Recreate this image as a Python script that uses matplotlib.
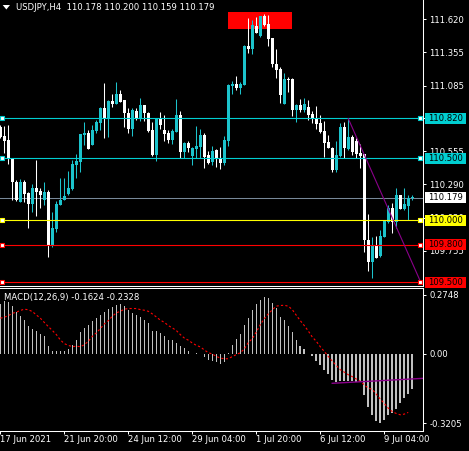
import numpy as np
import matplotlib
matplotlib.use('Agg')
import matplotlib.pyplot as plt
from matplotlib.patches import Rectangle, Polygon
from matplotlib.transforms import blended_transform_factory

# USDJPY H4 candles (one per bar, oldest first)
opens = [110.751, 110.679, 110.646, 110.499, 110.310, 110.149, 110.310, 110.216, 110.130, 110.262,
         110.235, 110.162, 110.230, 109.794, 109.929, 110.122, 110.162, 110.208, 110.251, 110.445,
         110.472, 110.687, 110.705, 110.606, 110.719, 110.781, 110.907, 110.821, 110.961, 110.937,
         111.015, 110.969, 110.861, 110.735, 110.880, 110.821, 110.929, 110.861, 110.727, 110.525,
         110.821, 110.727, 110.700, 110.646, 110.714, 110.848, 110.553, 110.625, 110.520, 110.574,
         110.593, 110.687, 110.525, 110.472, 110.566, 110.499, 110.458, 110.638, 111.085, 111.098,
         111.068, 111.090, 111.404, 111.380, 111.568, 111.485, 111.646, 111.582, 111.467, 111.259,
         111.219, 110.937, 111.138, 111.138, 110.888, 110.929, 110.888, 110.915, 110.856, 110.826,
         110.781, 110.719, 110.633, 110.585, 110.404, 110.520, 110.749, 110.574, 110.668, 110.638,
         110.539, 110.533, 109.840, 109.665, 109.794, 109.713, 109.867, 109.988, 110.095, 109.988,
         110.203, 110.090, 110.117, 110.178]
highs = [110.767, 110.762, 110.767, 110.499, 110.324, 110.332, 110.324, 110.230, 110.289, 110.485,
         110.257, 110.310, 110.243, 110.069, 110.154, 110.337, 110.343, 110.396, 110.485, 110.531,
         110.695, 110.794, 110.727, 110.767, 110.808, 110.915, 111.103, 110.969, 111.015, 111.111,
         111.050, 110.969, 110.907, 110.907, 110.902, 110.982, 110.929, 110.875, 110.794, 110.821,
         110.869, 110.848, 110.727, 110.735, 110.977, 110.880, 110.633, 110.638, 110.593, 110.759,
         110.732, 110.705, 110.558, 110.598, 110.574, 110.587, 110.679, 111.098, 111.122, 111.165,
         111.111, 111.410, 111.628, 111.614, 111.636, 111.649, 111.660, 111.654, 111.472, 111.380,
         111.238, 111.184, 111.157, 111.149, 110.939, 110.977, 110.988, 110.969, 110.880, 110.920,
         110.848, 110.800, 110.687, 110.593, 110.638, 110.781, 110.794, 110.816, 110.687, 110.660,
         110.611, 110.533, 110.047, 109.861, 109.872, 109.920, 110.001, 110.122, 110.136, 110.262,
         110.203, 110.257, 110.203, 110.200]
lows = [110.665, 110.539, 110.450, 110.162, 110.154, 110.149, 110.149, 109.939, 110.069, 110.036,
        110.101, 110.122, 109.705, 109.786, 109.907, 110.122, 110.162, 110.203, 110.243, 110.343,
        110.391, 110.606, 110.574, 110.606, 110.700, 110.727, 110.660, 110.673, 110.915, 110.934,
        110.950, 110.754, 110.700, 110.681, 110.808, 110.800, 110.800, 110.714, 110.520, 110.480,
        110.735, 110.638, 110.619, 110.614, 110.708, 110.499, 110.499, 110.547, 110.445, 110.504,
        110.504, 110.423, 110.450, 110.445, 110.431, 110.413, 110.445, 110.601, 111.015, 111.050,
        111.020, 111.090, 111.345, 111.337, 111.507, 111.474, 111.568, 111.407, 111.235, 111.149,
        110.947, 110.937, 111.036, 110.843, 110.794, 110.875, 110.869, 110.808, 110.781, 110.735,
        110.700, 110.512, 110.579, 110.391, 110.391, 110.512, 110.499, 110.566, 110.525, 110.499,
        110.418, 109.746, 109.590, 109.531, 109.692, 109.705, 109.867, 109.974, 109.899, 109.939,
        110.090, 110.082, 110.001, 110.159]
closes = [110.673, 110.641, 110.499, 110.310, 110.162, 110.310, 110.211, 110.130, 110.262, 110.230,
          110.203, 110.230, 109.794, 109.939, 110.127, 110.162, 110.197, 110.262, 110.453, 110.477,
          110.695, 110.705, 110.574, 110.727, 110.794, 110.902, 110.821, 110.961, 110.934, 111.015,
          110.955, 110.861, 110.735, 110.886, 110.821, 110.929, 110.861, 110.719, 110.525, 110.821,
          110.767, 110.695, 110.646, 110.719, 110.848, 110.553, 110.625, 110.585, 110.585, 110.598,
          110.687, 110.512, 110.458, 110.558, 110.499, 110.458, 110.646, 111.090, 111.098, 111.063,
          111.098, 111.404, 111.380, 111.574, 111.512, 111.646, 111.574, 111.461, 111.259, 111.211,
          111.010, 111.138, 111.130, 110.888, 110.929, 110.888, 110.937, 110.848, 110.826, 110.775,
          110.714, 110.619, 110.585, 110.404, 110.525, 110.749, 110.579, 110.668, 110.553, 110.533,
          110.520, 109.840, 109.665, 109.800, 109.697, 109.872, 109.993, 110.095, 109.982, 110.203,
          110.090, 110.127, 110.181, 110.179]

# MACD(12,26,9): main values drawn as histogram, signal as dotted line
macd_main = [0.2325, 0.245, 0.242, 0.222, 0.195, 0.175, 0.157, 0.129, 0.118, 0.105,
             0.093, 0.085, 0.036, 0.016, 0.012, 0.012, 0.016, 0.025, 0.040, 0.064,
             0.101, 0.121, 0.133, 0.152, 0.167, 0.183, 0.195, 0.211, 0.219, 0.226,
             0.234, 0.222, 0.202, 0.191, 0.183, 0.172, 0.160, 0.144, 0.109, 0.109,
             0.098, 0.085, 0.067, 0.064, 0.051, 0.036, 0.028, 0.012, 0.002, 0.004,
             -0.001, -0.016, -0.028, -0.032, -0.036, -0.047, -0.035, 0.005, 0.043, 0.070,
             0.093, 0.136, 0.168, 0.205, 0.233, 0.250, 0.264, 0.259, 0.237, 0.213,
             0.172, 0.160, 0.130, 0.100, 0.064, 0.036, 0.022, 0.002, -0.011, -0.031,
             -0.050, -0.072, -0.092, -0.120, -0.130, -0.123, -0.124, -0.127, -0.127, -0.131,
             -0.131, -0.190, -0.248, -0.283, -0.313, -0.3205, -0.308, -0.285, -0.275, -0.253,
             -0.228, -0.203, -0.185, -0.1624]
macd_signal = [0.166, 0.171, 0.178, 0.189, 0.194, 0.202, 0.208, 0.205, 0.197, 0.181,
               0.166, 0.146, 0.127, 0.109, 0.090, 0.065, 0.048, 0.040, 0.034, 0.036,
               0.034, 0.043, 0.059, 0.082, 0.098, 0.118, 0.140, 0.155, 0.175, 0.191,
               0.198, 0.208, 0.211, 0.211, 0.211, 0.206, 0.203, 0.198, 0.186, 0.172,
               0.157, 0.147, 0.132, 0.121, 0.109, 0.090, 0.074, 0.064, 0.051, 0.040,
               0.033, 0.019, 0.006, 0.000, -0.011, -0.019, -0.022, -0.022, -0.012, -0.003,
               0.006, 0.023, 0.053, 0.071, 0.102, 0.136, 0.164, 0.186, 0.205, 0.222,
               0.225, 0.226, 0.222, 0.206, 0.180, 0.155, 0.132, 0.107, 0.079, 0.059,
               0.034, 0.012, -0.011, -0.033, -0.053, -0.073, -0.084, -0.096, -0.105, -0.116,
               -0.127, -0.143, -0.158, -0.164, -0.186, -0.209, -0.229, -0.251, -0.267, -0.276,
               -0.282, -0.279, -0.271]

date_pos = [0, 16, 32, 48, 64, 80, 96]
date_labels = ['17 Jun 2021', '21 Jun 20:00', '24 Jun 12:00', '29 Jun 04:00',
               '1 Jul 20:00', '6 Jul 12:00', '9 Jul 04:00']
price_ticks = [111.620, 111.355, 111.085, 110.820, 110.555, 110.290, 110.020, 109.755]
macd_ticks = [0.2748, 0.0, -0.3205]
macd_tick_labels = ['0.2748', '0.00', '-0.3205']

# horizontal line objects and the bid line
levels = [110.820, 110.500, 110.000, 109.800, 109.500]
level_names = ['110.820', '110.500', '110.000', '109.800', '109.500']
bid = 110.179

# trend lines and the rectangle object
trend_x = [87.0, 105.2]
trend_y = [110.820, 109.495]
macd_trend_x = [83.0, 105.7]
macd_trend_y = [-0.136, -0.113]
zone_x = [56.9, 72.9]
zone_y = [111.542, 111.679]

TEAL = '#1cc3cc'
CYAN = '#00ced1'
level_colors = [CYAN, CYAN, '#ffff00', '#ff0000', '#ff0000']

plt.rcParams['font.family'] = 'DejaVu Sans'
FS = 6.1

W, H = 469, 451
fig = plt.figure(figsize=(W / 100, H / 100), dpi=100, facecolor='black')
ax = fig.add_axes([0, 1 - 285.7 / H, 423 / W, 285.7 / H], facecolor='black')
ax2 = fig.add_axes([0, 1 - 430.7 / H, 423 / W, (430.7 - 288) / H], facecolor='black')

for a in (ax, ax2):
    a.set_xlim(-0.1, 105.7)
    for s in a.spines.values():
        s.set_color('white')
        s.set_linewidth(0.75)
    a.spines['left'].set_visible(False)
    a.yaxis.tick_right()
    a.tick_params(axis='y', colors='white', labelsize=FS, length=2.2, width=0.72, pad=2.2)
ax.spines['top'].set_visible(False)

ax.set_ylim(109.4716, 111.7756)
ax2.set_ylim(-0.3559, 0.3062)

# candles
o, h, l, c = map(np.array, (opens, highs, lows, closes))
x = np.arange(len(o))
col = np.where(c >= o, TEAL, 'white')
ax.vlines(x, l, h, colors=col, lw=0.75, zorder=2)
ax.bar(x, np.maximum(np.abs(c - o), 0.008), bottom=np.minimum(o, c), width=0.75,
       color=col, lw=0, zorder=2)

ax.add_patch(Rectangle((zone_x[0], zone_y[0]), zone_x[1] - zone_x[0], zone_y[1] - zone_y[0],
                       facecolor='#ff0000', edgecolor='none', zorder=0.5))

ax.axhline(bid, color='#778899', lw=0.75, zorder=1.5)
xl = ax.get_xlim()
for lv, lc in zip(levels, level_colors):
    ax.axhline(lv, color=lc, lw=0.8, zorder=3)
    ax.plot([xl[0] + 0.6, xl[1] - 0.85], [lv, lv], 's', ms=3.3, mfc='white', mec=lc,
            mew=0.8, clip_on=False, zorder=5)
ax.plot(trend_x, trend_y, color='#8b008b', lw=0.8, zorder=3)

ax.set_xticks([])
ax.set_yticks(price_ticks)
ax.set_yticklabels(['%.3f' % v for v in price_ticks])

# price boxes at the right
bt = blended_transform_factory(ax.transAxes, ax.transData)
box_h = 11 / 124.0
for lv, name, lc in list(zip(levels, level_names, level_colors)) + [(bid, '110.179', 'white')]:
    ax.add_patch(Rectangle((1.0047, lv - box_h / 2), 0.097, box_h, transform=bt,
                           facecolor=lc, edgecolor='none', clip_on=False, zorder=6))
    ax.text(1.012, lv, name, transform=bt, color='black', fontsize=FS,
            ha='left', va='center', zorder=7, clip_on=False)

# MACD
ax2.bar(x, macd_main, width=0.38, color='#c0c0c0', lw=0)
ax2.plot(np.arange(len(macd_signal)), macd_signal, color='#ff0000', lw=0.8,
         linestyle=(0, (2, 2)))
ax2.plot(macd_trend_x, macd_trend_y, color='#8b008b', lw=1.0)
ax2.set_yticks(macd_ticks)
ax2.set_yticklabels(macd_tick_labels)
ax2.set_xticks(date_pos)
ax2.set_xticklabels([])
ax2.tick_params(axis='x', colors='white', length=2.5, width=0.72, direction='out')
dt = blended_transform_factory(ax2.transData, ax2.transAxes)
for p, lab in zip(date_pos, date_labels):
    ax2.text(p - 0.1, -0.062, lab, transform=dt, color='white', fontsize=FS,
             ha='left', va='center', clip_on=False)

# header texts
fig.text(15.5 / W, 1 - 7.5 / H, 'USDJPY,H4  110.178 110.200 110.159 110.179',
         color='white', fontsize=FS, ha='left', va='center')
fig.patches.append(Polygon([[2.7 / W, 1 - 5 / H], [10 / W, 1 - 5 / H], [6.35 / W, 1 - 9.5 / H]],
                           closed=True, transform=fig.transFigure, facecolor='white',
                           edgecolor='none'))
fig.text(4 / W, 1 - 297.5 / H, 'MACD(12,26,9) -0.1624 -0.2328',
         color='white', fontsize=FS, ha='left', va='center')

fig.savefig('out.png', dpi=100, facecolor='black')
